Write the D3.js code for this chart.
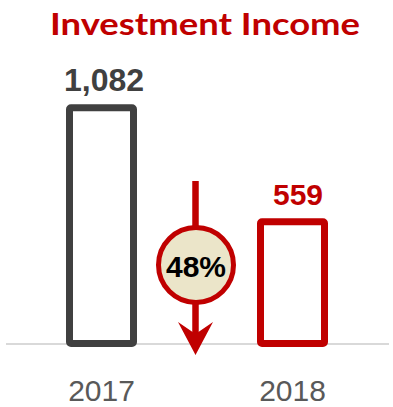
<!DOCTYPE html>
<html>
<head>
<meta charset="utf-8">
<script src="https://cdn.jsdelivr.net/npm/d3@7"></script>
<style>
  html, body { margin: 0; padding: 0; background: #ffffff; }
  svg { display: block; }
</style>
</head>
<body>
<div id="chart"></div>
<script>
// Investment income by year
const years = ["2017", "2018"];
const income = [1082, 559];
const changeLabel = "48%";
const chartTitle = "Investment Income";

const W = 393, H = 407;
const RED = "#c00000", DARK = "#404040", GREY = "#595959";

const svg = d3.select("#chart").append("svg")
  .attr("width", W).attr("height", H);

const x = d3.scalePoint().domain(years).range([101.5, 292.5]);
const y = d3.scaleLinear().domain([0, 1082]).range([343.5, 107.8]);
const barW = 64;
const strokeW = 7;
const barColor = i => i === 0 ? DARK : RED;

// Title
svg.append("text")
  .attr("x", 205).attr("y", 35)
  .attr("text-anchor", "middle")
  .attr("font-family", "Lato, 'Open Sans', sans-serif")
  .attr("font-weight", "bold")
  .attr("font-size", 31)
  .attr("textLength", 310)
  .attr("lengthAdjust", "spacingAndGlyphs")
  .attr("fill", RED)
  .text(chartTitle);

// Baseline
svg.append("line")
  .attr("x1", 6).attr("x2", 389)
  .attr("y1", y(0) + 0.5).attr("y2", y(0) + 0.5)
  .attr("stroke", "#d9d9d9").attr("stroke-width", 2);

// Outlined bars
svg.selectAll("rect.bar").data(income).join("rect")
  .attr("class", "bar")
  .attr("x", (d, i) => x(years[i]) - barW / 2)
  .attr("y", d => y(d))
  .attr("width", barW)
  .attr("height", d => y(0) - y(d))
  .attr("rx", 1.5)
  .attr("fill", "#ffffff")
  .attr("stroke", (d, i) => barColor(i))
  .attr("stroke-width", strokeW);

// Value labels
svg.selectAll("text.val").data(income).join("text")
  .attr("class", "val")
  .attr("x", (d, i) => x(years[i]) + (i === 0 ? 2.5 : 5.5))
  .attr("y", d => y(d) - 17)
  .attr("text-anchor", "middle")
  .attr("font-family", "'Liberation Sans', Arial, sans-serif")
  .attr("font-weight", "bold")
  .attr("font-size", (d, i) => i === 0 ? 32 : 30)
  .attr("fill", (d, i) => barColor(i))
  .text(d => d3.format(",")(d));

// Category labels
svg.selectAll("text.cat").data(years).join("text")
  .attr("class", "cat")
  .attr("x", d => x(d))
  .attr("y", 400.5)
  .attr("text-anchor", "middle")
  .attr("font-family", "'Liberation Sans', Arial, sans-serif")
  .attr("font-size", 30)
  .attr("fill", GREY)
  .text(d => d);

// Decline arrow with percentage badge
const ax = 195.5;
const g = svg.append("g");
g.append("line")
  .attr("x1", ax).attr("x2", ax)
  .attr("y1", 181).attr("y2", 335)
  .attr("stroke", RED).attr("stroke-width", 6.5);
g.append("path")
  .attr("d", `M${ax},355 L${ax - 17.5},322 L${ax},334 L${ax + 17.5},322 Z`)
  .attr("fill", RED);
g.append("circle")
  .attr("cx", 196).attr("cy", 265)
  .attr("r", 37.5)
  .attr("fill", "#ebe5c9")
  .attr("stroke", RED).attr("stroke-width", 5);
g.append("text")
  .attr("x", 196).attr("y", 277)
  .attr("text-anchor", "middle")
  .attr("font-family", "'Liberation Sans', Arial, sans-serif")
  .attr("font-weight", "bold")
  .attr("font-size", 30)
  .attr("fill", "#000000")
  .text(changeLabel);
</script>
</body>
</html>
